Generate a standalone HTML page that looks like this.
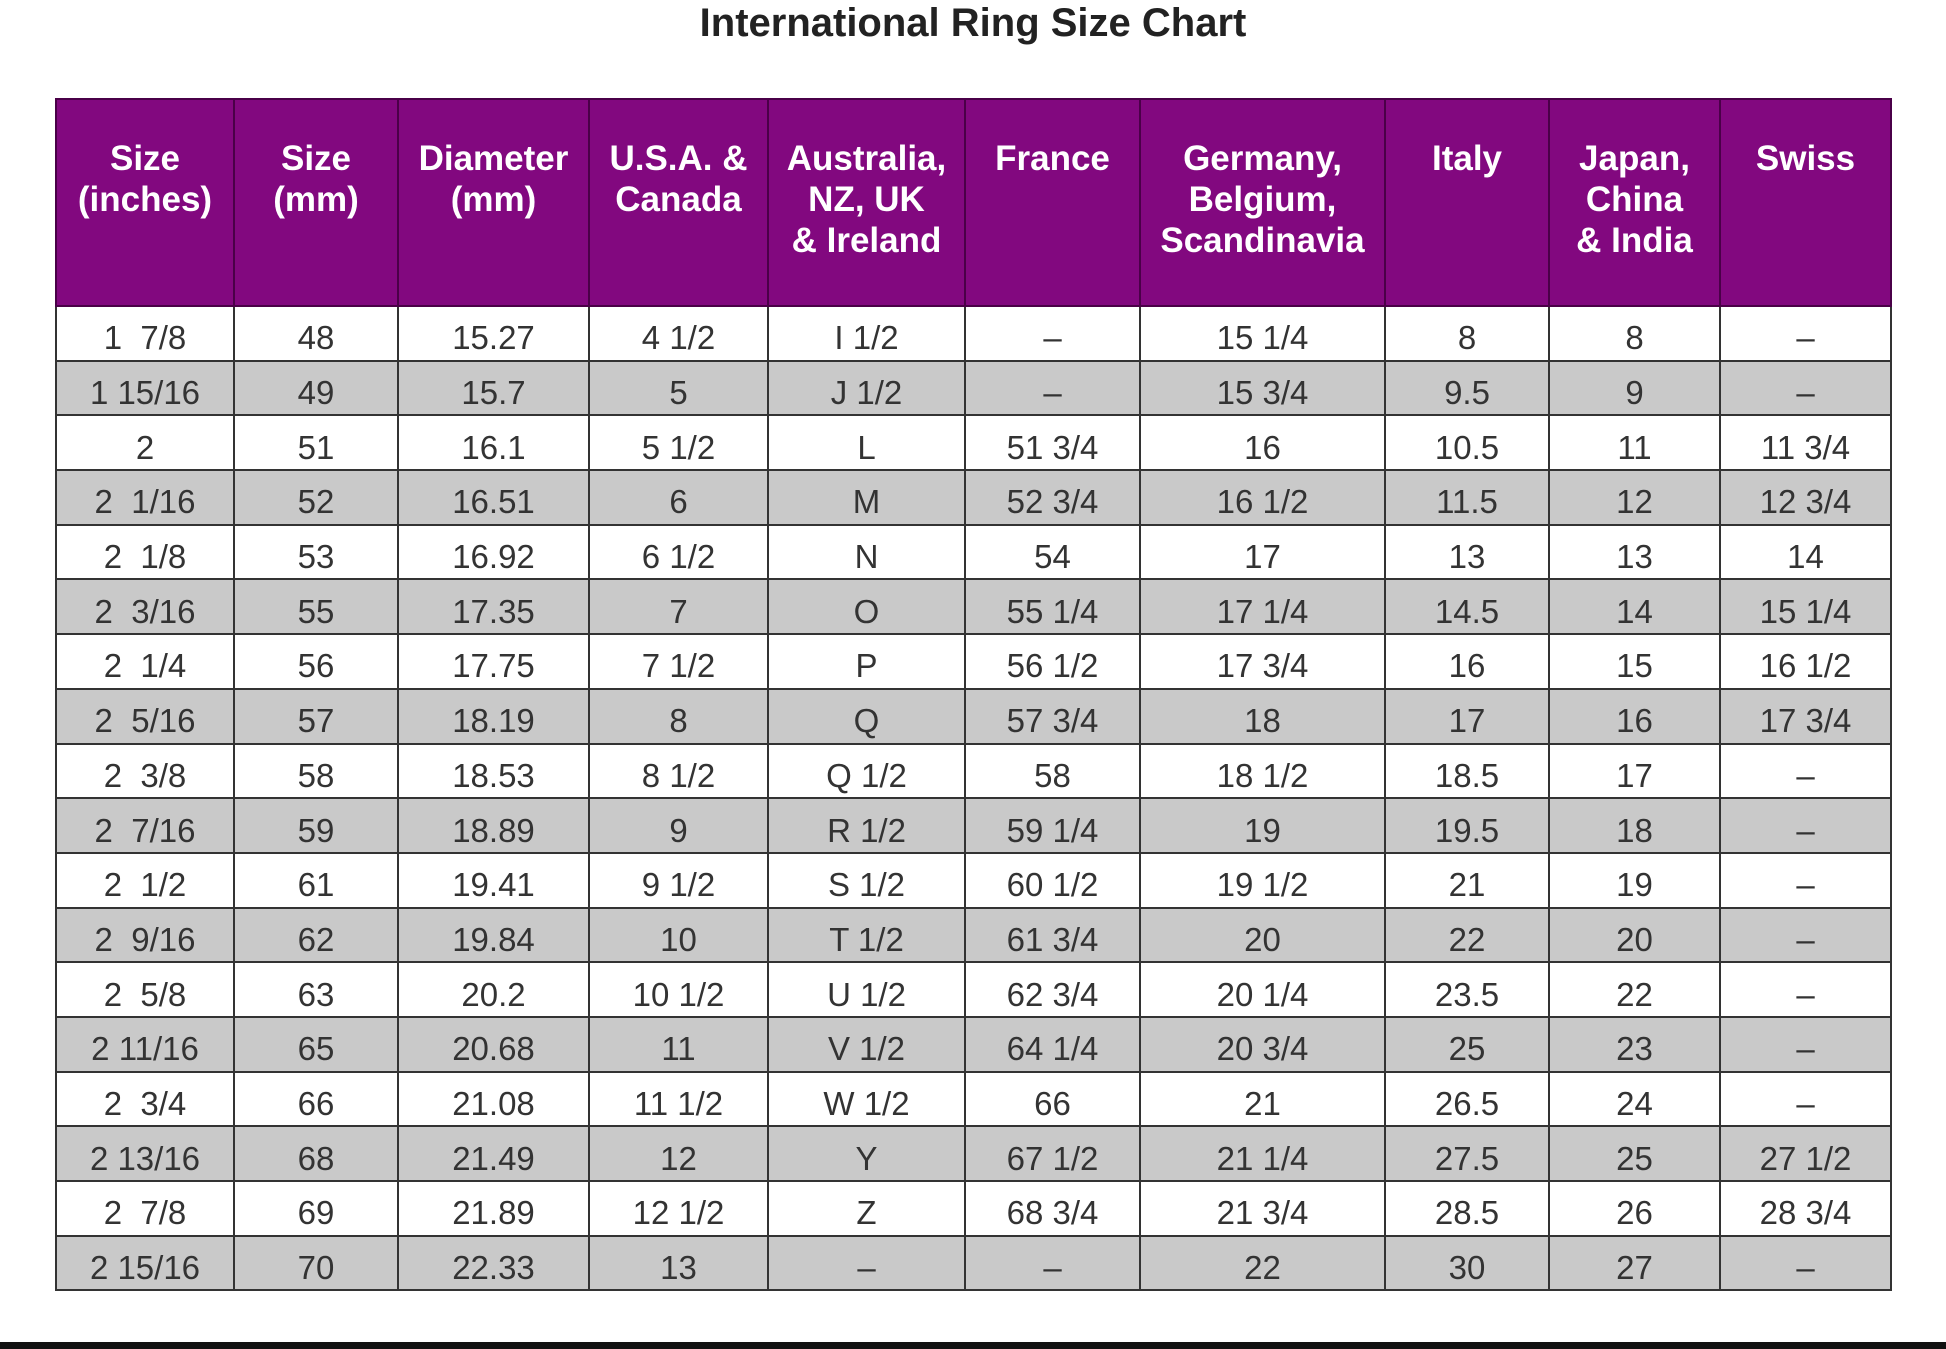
<!DOCTYPE html>
<html><head><meta charset="utf-8"><style>
html,body{margin:0;padding:0;background:#fff;width:1946px;height:1349px;overflow:hidden;position:relative;font-family:"Liberation Sans",Arial,sans-serif;}
h1{position:absolute;left:0;width:1946px;top:0;margin:0;text-align:center;font-size:40px;font-weight:bold;color:#222;line-height:46px;}
table{position:absolute;left:55px;top:98px;border-collapse:collapse;table-layout:fixed;width:1835px;}
td,th{border:2px solid #333;text-align:center;padding:0;}
th{background:#82087f;color:#fff;font-size:35px;line-height:41px;height:207px;vertical-align:top;padding-top:38px;box-sizing:border-box;font-weight:bold;border-color:#4a0048;}
td{height:43.7px;padding-top:9px;font-size:33px;color:#333;line-height:43px;}
tr.g td{background:#c9c9c9;}
.bar{position:absolute;left:0;top:1342px;width:1946px;height:7px;background:#111;}
</style></head><body>
<h1>International Ring Size Chart</h1>
<table>
<colgroup><col style="width:178px"><col style="width:164px"><col style="width:191px"><col style="width:179px"><col style="width:197px"><col style="width:175px"><col style="width:245px"><col style="width:164px"><col style="width:171px"><col style="width:171px"></colgroup>
<tr><th>Size<br>(inches)</th><th>Size<br>(mm)</th><th>Diameter<br>(mm)</th><th>U.S.A. &amp;<br>Canada</th><th>Australia,<br>NZ, UK<br>&amp; Ireland</th><th>France</th><th>Germany,<br>Belgium,<br>Scandinavia</th><th>Italy</th><th>Japan,<br>China<br>&amp; India</th><th>Swiss</th></tr>
<tr><td>1&nbsp; 7/8</td><td>48</td><td>15.27</td><td>4 1/2</td><td>I 1/2</td><td>–</td><td>15 1/4</td><td>8</td><td>8</td><td>–</td></tr>
<tr class="g"><td>1 15/16</td><td>49</td><td>15.7</td><td>5</td><td>J 1/2</td><td>–</td><td>15 3/4</td><td>9.5</td><td>9</td><td>–</td></tr>
<tr><td>2</td><td>51</td><td>16.1</td><td>5 1/2</td><td>L</td><td>51 3/4</td><td>16</td><td>10.5</td><td>11</td><td>11 3/4</td></tr>
<tr class="g"><td>2&nbsp; 1/16</td><td>52</td><td>16.51</td><td>6</td><td>M</td><td>52 3/4</td><td>16 1/2</td><td>11.5</td><td>12</td><td>12 3/4</td></tr>
<tr><td>2&nbsp; 1/8</td><td>53</td><td>16.92</td><td>6 1/2</td><td>N</td><td>54</td><td>17</td><td>13</td><td>13</td><td>14</td></tr>
<tr class="g"><td>2&nbsp; 3/16</td><td>55</td><td>17.35</td><td>7</td><td>O</td><td>55 1/4</td><td>17 1/4</td><td>14.5</td><td>14</td><td>15 1/4</td></tr>
<tr><td>2&nbsp; 1/4</td><td>56</td><td>17.75</td><td>7 1/2</td><td>P</td><td>56 1/2</td><td>17 3/4</td><td>16</td><td>15</td><td>16 1/2</td></tr>
<tr class="g"><td>2&nbsp; 5/16</td><td>57</td><td>18.19</td><td>8</td><td>Q</td><td>57 3/4</td><td>18</td><td>17</td><td>16</td><td>17 3/4</td></tr>
<tr><td>2&nbsp; 3/8</td><td>58</td><td>18.53</td><td>8 1/2</td><td>Q 1/2</td><td>58</td><td>18 1/2</td><td>18.5</td><td>17</td><td>–</td></tr>
<tr class="g"><td>2&nbsp; 7/16</td><td>59</td><td>18.89</td><td>9</td><td>R 1/2</td><td>59 1/4</td><td>19</td><td>19.5</td><td>18</td><td>–</td></tr>
<tr><td>2&nbsp; 1/2</td><td>61</td><td>19.41</td><td>9 1/2</td><td>S 1/2</td><td>60 1/2</td><td>19 1/2</td><td>21</td><td>19</td><td>–</td></tr>
<tr class="g"><td>2&nbsp; 9/16</td><td>62</td><td>19.84</td><td>10</td><td>T 1/2</td><td>61 3/4</td><td>20</td><td>22</td><td>20</td><td>–</td></tr>
<tr><td>2&nbsp; 5/8</td><td>63</td><td>20.2</td><td>10 1/2</td><td>U 1/2</td><td>62 3/4</td><td>20 1/4</td><td>23.5</td><td>22</td><td>–</td></tr>
<tr class="g"><td>2 11/16</td><td>65</td><td>20.68</td><td>11</td><td>V 1/2</td><td>64 1/4</td><td>20 3/4</td><td>25</td><td>23</td><td>–</td></tr>
<tr><td>2&nbsp; 3/4</td><td>66</td><td>21.08</td><td>11 1/2</td><td>W 1/2</td><td>66</td><td>21</td><td>26.5</td><td>24</td><td>–</td></tr>
<tr class="g"><td>2 13/16</td><td>68</td><td>21.49</td><td>12</td><td>Y</td><td>67 1/2</td><td>21 1/4</td><td>27.5</td><td>25</td><td>27 1/2</td></tr>
<tr><td>2&nbsp; 7/8</td><td>69</td><td>21.89</td><td>12 1/2</td><td>Z</td><td>68 3/4</td><td>21 3/4</td><td>28.5</td><td>26</td><td>28 3/4</td></tr>
<tr class="g"><td>2 15/16</td><td>70</td><td>22.33</td><td>13</td><td>–</td><td>–</td><td>22</td><td>30</td><td>27</td><td>–</td></tr>
</table>
<div class="bar"></div>
</body></html>
